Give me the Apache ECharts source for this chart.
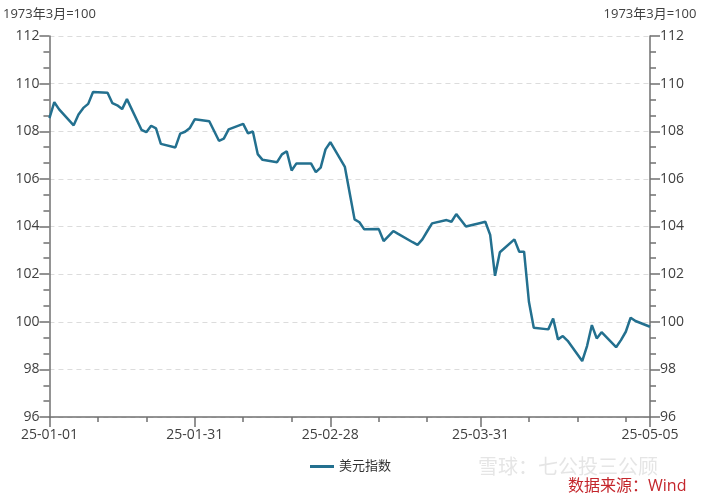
<!DOCTYPE html>
<html>
<head>
<meta charset="utf-8">
<script src="https://cdn.jsdelivr.net/npm/echarts@6/dist/echarts.min.js"></script>
<style>html,body{margin:0;padding:0;background:#fff;}#c{width:701px;height:500px;}</style>
</head>
<body>
<div id="c"></div>
<script>
var dates = ['2025-01-01','2025-01-02','2025-01-03','2025-01-06','2025-01-07','2025-01-08','2025-01-09','2025-01-10',
'2025-01-13','2025-01-14','2025-01-15','2025-01-16','2025-01-17','2025-01-20','2025-01-21','2025-01-22','2025-01-23','2025-01-24',
'2025-01-27','2025-01-28','2025-01-29','2025-01-30','2025-01-31','2025-02-03','2025-02-04','2025-02-05','2025-02-06','2025-02-07',
'2025-02-10','2025-02-11','2025-02-12','2025-02-13','2025-02-14','2025-02-17','2025-02-18','2025-02-19','2025-02-20','2025-02-21',
'2025-02-24','2025-02-25','2025-02-26','2025-02-27','2025-02-28','2025-03-03','2025-03-04','2025-03-05','2025-03-06','2025-03-07',
'2025-03-10','2025-03-11','2025-03-12','2025-03-13','2025-03-14','2025-03-17','2025-03-18','2025-03-19','2025-03-20','2025-03-21',
'2025-03-24','2025-03-25','2025-03-26','2025-03-27','2025-03-28','2025-03-31','2025-04-01','2025-04-02','2025-04-03','2025-04-04',
'2025-04-07','2025-04-08','2025-04-09','2025-04-10','2025-04-11','2025-04-14','2025-04-15','2025-04-16','2025-04-17','2025-04-18',
'2025-04-21','2025-04-22','2025-04-23','2025-04-24','2025-04-25','2025-04-28','2025-04-29','2025-04-30','2025-05-01','2025-05-02',
'2025-05-05'];
var dxy = [108.55,109.22,108.92,108.25,108.70,108.98,109.15,109.65,
109.62,109.18,109.09,108.93,109.35,108.06,107.96,108.23,108.12,107.47,
107.32,107.90,107.98,108.14,108.50,108.42,108.01,107.60,107.69,108.08,
108.31,107.91,107.99,107.04,106.80,106.70,107.03,107.16,106.35,106.65,
106.65,106.28,106.47,107.24,107.54,106.50,105.40,104.30,104.18,103.88,
103.89,103.39,103.60,103.81,103.69,103.34,103.23,103.46,103.80,104.13,
104.27,104.20,104.52,104.26,104.00,104.15,104.20,103.65,101.93,102.92,
103.46,102.94,102.94,100.84,99.75,99.68,100.14,99.26,99.40,99.20,
98.35,98.98,99.86,99.30,99.56,98.93,99.23,99.58,100.17,100.03,
99.79];
var labelDates = ['2025-01-01','2025-01-31','2025-02-28','2025-03-31','2025-05-05'];
var tickDates = ['2025-01-01','2025-01-11','2025-01-21','2025-01-31','2025-02-10','2025-02-20','2025-02-28',
'2025-03-10','2025-03-20','2025-03-31','2025-04-10','2025-04-20','2025-04-30','2025-05-05'];
var seriesName = '美元指数';
var unitName = '1973年3月=100';
var sourceText = '数据来源：Wind';
var watermarkText = '雪球：七公投三公顾';

var BASE = Date.UTC(2025,0,1);
function dayIdx(s){var p=s.split('-');return Math.round((Date.UTC(+p[0],+p[1]-1,+p[2])-BASE)/864e5);}
function fmt(d){var dt=new Date(BASE+d*864e5);var y=String(dt.getUTCFullYear()).slice(2);var m=('0'+(dt.getUTCMonth()+1)).slice(-2);var dd=('0'+dt.getUTCDate()).slice(-2);return y+'-'+m+'-'+dd;}
var xMin = dayIdx(labelDates[0]), xMax = dayIdx(labelDates[labelDates.length-1]);
var pts = dates.map(function(d,i){return [dayIdx(d), dxy[i]];});

var FONT = "'Open Sans','Noto Sans CJK SC',sans-serif";
var axisColor = '#707070', txtColor = '#404040';
function yAxisCfg(pos, withSplit){
  return {
    type:'value', min:96, max:112, interval:2, position:pos,
    name:unitName, nameGap:15,
    nameTextStyle:{color:txtColor,fontSize:13,fontFamily:FONT},
    axisLine:{show:true,onZero:false,lineStyle:{color:axisColor,width:1.5}},
    axisTick:{show:true,inside:false,length:10,lineStyle:{color:axisColor,width:1.5}},
    minorTick:{show:true,splitNumber:3,length:6,lineStyle:{color:axisColor,width:1.5}},
    axisLabel:{color:txtColor,fontSize:14,fontFamily:FONT,margin:10},
    splitLine:withSplit?{show:true,lineStyle:{color:'#dcdcdc',type:[5,4],width:1}}:{show:false}
  };
}
var chart = echarts.init(document.getElementById('c'));
chart.setOption({
  animation:false,
  backgroundColor:'#fff',
  grid:{left:49,right:51,top:36,bottom:83},
  legend:{data:[seriesName],left:'center',top:455,icon:'rect',itemWidth:24,itemHeight:3,itemGap:10,
    textStyle:{color:'#333',fontSize:13,fontFamily:FONT}},
  xAxis:[
    {type:'value',min:xMin,max:xMax,position:'bottom',
      axisLine:{show:true,onZero:false,lineStyle:{color:axisColor,width:1.5}},
      axisTick:{show:true,length:5,customValues:tickDates.map(dayIdx),lineStyle:{color:axisColor,width:1.5}},
      axisLabel:{show:false},splitLine:{show:false}},
    {type:'value',min:xMin,max:xMax,position:'bottom',
      axisLine:{show:false,onZero:false},
      axisTick:{show:true,length:10,customValues:labelDates.map(dayIdx),lineStyle:{color:axisColor,width:1.5}},
      axisLabel:{show:true,customValues:labelDates.map(dayIdx),formatter:function(v){return fmt(v);},
        color:txtColor,fontSize:14,fontFamily:FONT,margin:11},
      splitLine:{show:false}}
  ],
  yAxis:[ yAxisCfg('left', true), yAxisCfg('right', false) ],
  series:[{name:seriesName,type:'line',xAxisIndex:0,yAxisIndex:0,data:pts,showSymbol:false,symbol:'none',
    lineStyle:{color:'#23708f',width:2.5},itemStyle:{color:'#23708f'}}],
  graphic:[
    {type:'text',left:478,top:458,style:{text:watermarkText,fill:'rgba(170,170,170,0.3)',fontSize:20,fontFamily:FONT}},
    {type:'text',left:568,top:478,style:{text:sourceText,fill:'#c4262c',fontSize:16,fontFamily:FONT}}
  ]
});
</script>
</body>
</html>
